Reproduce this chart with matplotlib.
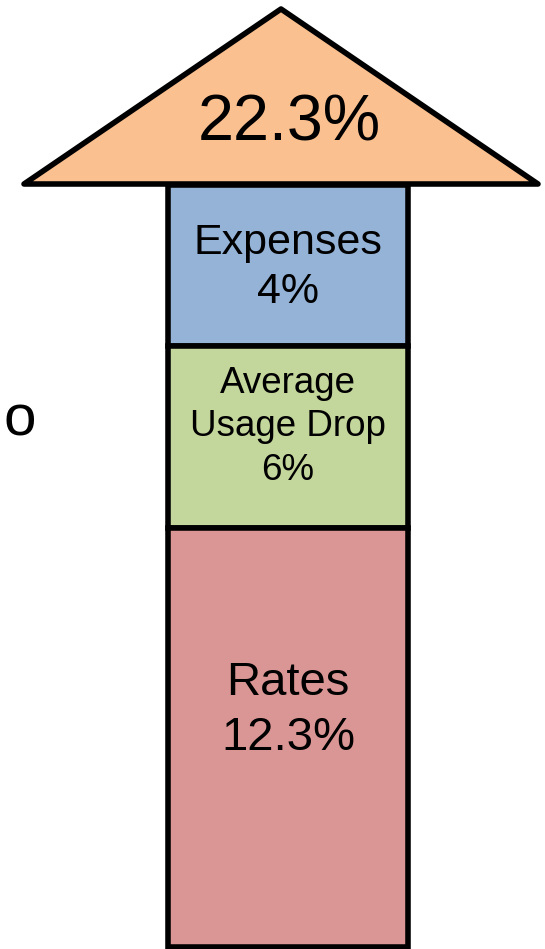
import matplotlib.pyplot as plt
from matplotlib.patches import Polygon, Rectangle

# data
labels = ['Expenses', 'Average\nUsage Drop', 'Rates']
values = [4, 6, 12.3]
total = 22.3
side_text = 'o'

# layout (pixel units, top-down)
seg_heights = [161, 182, 419]
seg_colors = ['#95B3D7', '#C3D69B', '#D99694']
seg_fonts = [31, 26.5, 34]        # points
seg_shift = [2, -10, -27]         # text offset from block centre
W, H = 545, 949

plt.rcParams['font.family'] = ['Liberation Sans', 'DejaVu Sans']
fig = plt.figure(figsize=(W / 100, H / 100), dpi=100)
ax = fig.add_axes([0, 0, 1, 1])
ax.set_xlim(0, W)
ax.set_ylim(H, 0)
ax.axis('off')

# arrow head
head = Polygon([(24, 184), (281, 9), (538, 184)], closed=True,
               facecolor='#FAC090', edgecolor='black', lw=4, joinstyle='round')
ax.add_patch(head)
ax.text(289, 123, f'{total}%', ha='center', va='center', fontsize=46.5)

# stacked shaft
x0, x1 = 168, 408
top = 185
for lab, val, h, c, fs, dy in zip(labels, values, seg_heights, seg_colors,
                                   seg_fonts, seg_shift):
    ax.add_patch(Rectangle((x0, top), x1 - x0, h, facecolor=c,
                           edgecolor='black', lw=4))
    ax.text((x0 + x1) / 2, top + h / 2 + dy, f'{lab}\n{val:g}%', ha='center',
            va='center', fontsize=fs, linespacing=1.3)
    top += h

ax.text(20, 420, side_text, ha='center', va='center', fontsize=42)

fig.savefig('out.png', dpi=100)
